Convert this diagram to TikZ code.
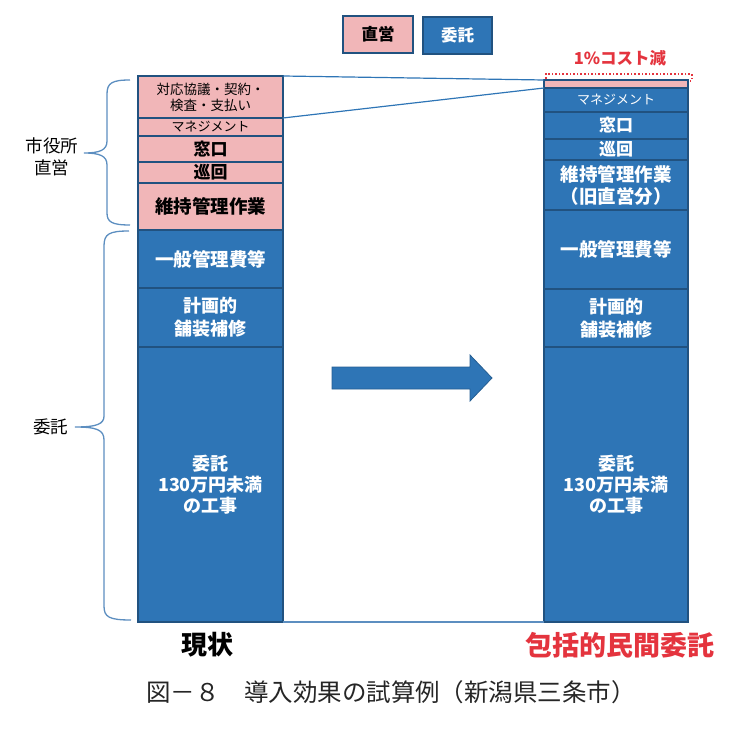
\documentclass[tikz,border=0pt]{standalone}
\usepackage{fontspec}
\setmainfont{Noto Sans CJK JP}
\usepackage{tikz}

\definecolor{segpink}{RGB}{241,182,184}
\definecolor{segblue}{RGB}{46,117,182}
\definecolor{segline}{RGB}{33,82,128}
\definecolor{braceblue}{RGB}{92,142,192}
\definecolor{costred}{RGB}{228,52,62}

\tikzset{
    seg/.style={draw=segline, line width=1.8pt, inner sep=0pt, outer sep=0pt,
        anchor=north west, align=center,
        font=\bfseries\fontsize{18}{22}\selectfont},
    pinkseg/.style={seg, fill=segpink, text=black, minimum width=145pt},
    blueseg/.style={seg, fill=segblue, text=white, minimum width=145pt},
    thinlabel/.style={font=\fontsize{13}{15}\selectfont},
    bracelabel/.style={font=\fontsize{17.5}{22}\selectfont, align=center},
}

\begin{document}
\begin{tikzpicture}[x=1pt, y=-1pt]
    \useasboundingbox (0,0) rectangle (753,730);

    % legend
    \node[pinkseg, minimum width=70pt, minimum height=37pt, font=\bfseries\fontsize{16.5}{20}\selectfont] (legdirect) at (343,16) {直営};
    \node[blueseg, minimum width=69pt, minimum height=37pt, font=\bfseries\fontsize{16.5}{20}\selectfont] (legcontract) at (423,17) {委託};

    % current state
    \node[pinkseg, minimum height=42pt, font=\fontsize{13.5}{16}\selectfont] (lnego) at (138,76) {対応協議・契約・\\検査・支払い};
    \node[pinkseg, minimum height=18pt, thinlabel] (lmgmt) at (138,118) {マネジメント};
    \node[pinkseg, minimum height=26pt, font=\bfseries\fontsize{17}{20}\selectfont] (lwin) at (138,136) {窓口};
    \node[pinkseg, minimum height=21pt, font=\bfseries\fontsize{17}{20}\selectfont] (lpatrol) at (138,162) {巡回};
    \node[pinkseg, minimum height=47pt, font=\bfseries\fontsize{18.5}{22}\selectfont] (lwork) at (138,183) {維持管理作業};
    \node[blueseg, minimum height=58pt, font=\bfseries\fontsize{18.5}{22}\selectfont] (lgen) at (138,230) {一般管理費等};
    \node[blueseg, minimum height=59pt, font=\bfseries\fontsize{18}{23}\selectfont] (lpave) at (138,288) {計画的\\舗装補修};
    \node[blueseg, minimum height=275pt, font=\bfseries\fontsize{18}{21}\selectfont] (lsmall) at (138,347) {委託\\130万円未満\\の工事};

    % comprehensive contract
    \node[draw=costred, dotted, line width=1.6pt, inner sep=0pt, anchor=north west,
        minimum width=146pt, minimum height=7pt] (rcut) at (545,73) {};
    \node[pinkseg, minimum width=144pt, minimum height=8pt] (rnego) at (544,80) {};
    \node[blueseg, minimum width=144pt, minimum height=24pt, thinlabel] (rmgmt) at (544,88) {マネジメント};
    \node[blueseg, minimum width=144pt, minimum height=27pt, font=\bfseries\fontsize{17}{20}\selectfont] (rwin) at (544,112) {窓口};
    \node[blueseg, minimum width=144pt, minimum height=21pt, font=\bfseries\fontsize{17}{20}\selectfont] (rpatrol) at (544,139) {巡回};
    \node[blueseg, minimum width=144pt, minimum height=50pt, font=\bfseries\fontsize{18.5}{22}\selectfont] (rwork) at (544,160) {維持管理作業\\（旧直営分）};
    \node[blueseg, minimum width=144pt, minimum height=79pt, font=\bfseries\fontsize{18.5}{22}\selectfont] (rgen) at (544,210) {一般管理費等};
    \node[blueseg, minimum width=144pt, minimum height=58pt, font=\bfseries\fontsize{18}{23}\selectfont] (rpave) at (544,289) {計画的\\舗装補修};
    \node[blueseg, minimum width=144pt, minimum height=275pt, font=\bfseries\fontsize{18}{21}\selectfont] (rsmall) at (544,347) {委託\\130万円未満\\の工事};

    \node[text=costred, font=\bfseries\fontsize{16.5}{18}\selectfont] (costlabel) at (620,58) {1\%コスト減};

    % links between the columns
    \draw[segblue, line width=1.2pt] (lnego.north east) -- (rnego.north west);
    \draw[segblue, line width=1.2pt] (lnego.south east) -- (rnego.south west);
    \draw[braceblue, line width=1.2pt] (lsmall.south east) -- (rsmall.south west);

    % big arrow
    \filldraw[fill=segblue, draw=segblue!80!black, line width=0.8pt]
        (332,367) -- (470,367) -- (470,355) -- (492,378)
        -- (470,401) -- (470,389) -- (332,389) -- cycle;

    % braces
    \draw[braceblue, line width=1.3pt]
        (130,80) .. controls (112,80) and (107,83) .. (107,94) -- (107,141)
        .. controls (107,150) and (100,153) .. (84,153)
        .. controls (100,153) and (107,156) .. (107,165) -- (107,213)
        .. controls (107,222) and (112,225) .. (130,225);
    \draw[braceblue, line width=1.3pt]
        (129,231) .. controls (109,231) and (104,234) .. (104,246) -- (104,416)
        .. controls (104,424) and (97,427) .. (75,427)
        .. controls (97,427) and (104,430) .. (104,440) -- (104,606)
        .. controls (104,617) and (109,620) .. (131,620);

    \node[bracelabel] (cityhall) at (52,157) {市役所\\直営};
    \node[bracelabel] (contract) at (51,427) {委託};

    % titles
    \node[font=\bfseries\fontsize{26}{28}\selectfont] (current) at (207,645) {現状};
    \node[text=costred, font=\bfseries\fontsize{27}{30}\selectfont] (future) at (620,645) {包括的民間委託};
    \node[font=\fontsize{24.5}{27}\selectfont, text=black!85] (caption) at (391,692) {図－８　導入効果の試算例（新潟県三条市）};
\end{tikzpicture}
\end{document}
